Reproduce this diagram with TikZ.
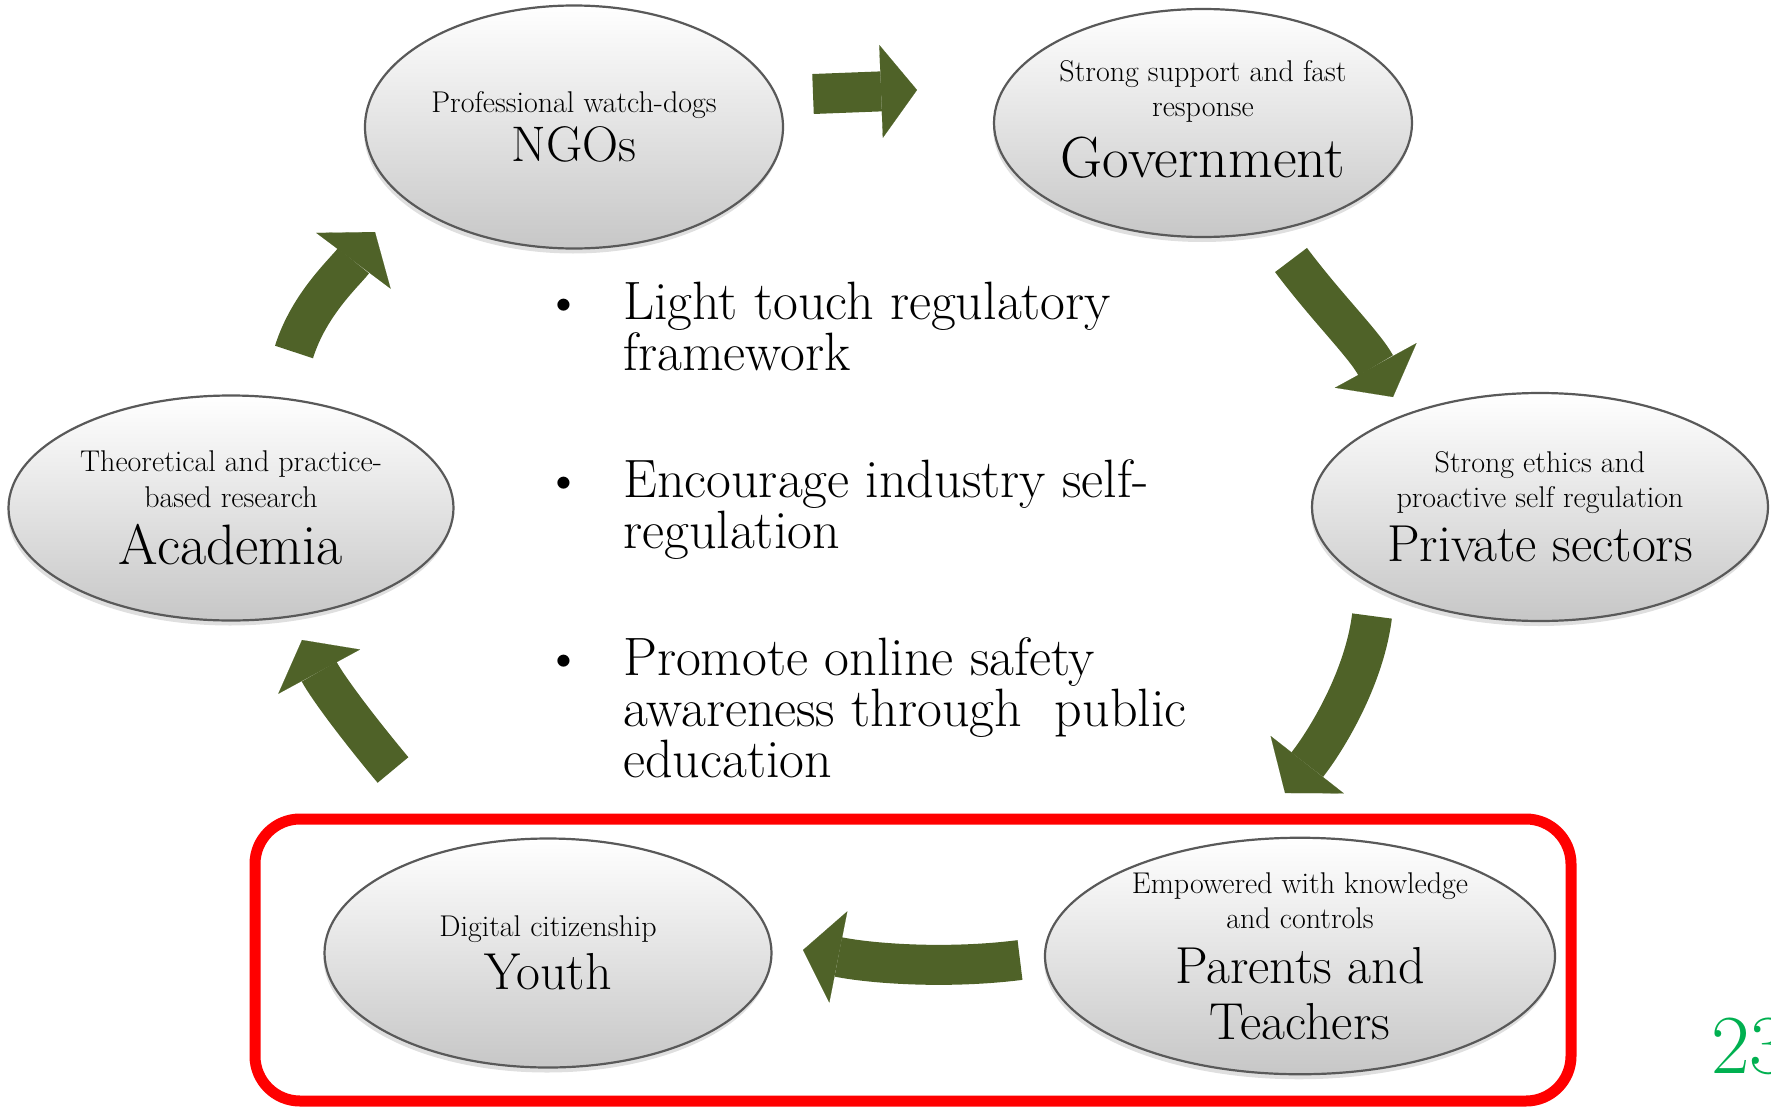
\documentclass[tikz,border=0pt]{standalone}
\usetikzlibrary{shapes.geometric,arrows.meta,shadows}

\definecolor{leaf}{HTML}{4F6228}
\definecolor{slidegreen}{HTML}{00B050}

% text sizes (1pt = 1px of the slide)
\lineskiplimit=-200pt
\normallineskiplimit=-200pt
\newcommand\smalltxt{\fontsize{30}{35}\selectfont}
\newcommand\listtxt{\fontsize{54}{51}\selectfont}
\newcommand\roletxt[1]{\fontsize{#1}{#1}\selectfont}

\begin{document}
\begin{tikzpicture}[x=1pt,y=-1pt,
  bubble/.style={ellipse,inner sep=0pt,align=center,font=\smalltxt,
    draw=black!65,line width=2.2pt,
    top color=white,middle color=black!4,bottom color=black!22,
    drop shadow={shadow xshift=-1pt,shadow yshift=-5pt,opacity=.25}},
  flow/.style={draw=leaf,line width=40pt,
    -{Triangle[width=93pt,length=36pt,line width=0.1pt]}},
  item/.style={anchor=north west,align=left,inner sep=0pt,font=\listtxt}]
\useasboundingbox (0,0) rectangle (1771,1108);

% the six actors
\node[bubble,minimum width=418pt,minimum height=243pt] at (574,127) (ngo)
  {Professional watch-dogs\\[14pt]\roletxt{50}NGOs};
\node[bubble,minimum width=418pt,minimum height=228pt] at (1203,123) (gov)
  {Strong support and fast\\response\\[26pt]\roletxt{58}Government\rule[-8pt]{0pt}{8pt}};
\node[bubble,minimum width=456pt,minimum height=228pt] at (1540,507) (priv)
  {Strong ethics and\\proactive self regulation\\[19pt]\roletxt{52}Private sectors};
\node[bubble,minimum width=445pt,minimum height=225pt] at (231,508) (acad)
  {Theoretical and practice-\\[1pt]based research\\[22pt]\roletxt{57}Academia};
\node[bubble,minimum width=447pt,minimum height=229pt] at (548,953) (youth)
  {Digital citizenship\\[18pt]\roletxt{52}Youth};
\node[bubble,minimum width=510pt,minimum height=234pt] at (1300,956) (parent)
  {Empowered with knowledge\\and controls\\[20pt]\roletxt{52}Parents and\\[21pt]\roletxt{52}Teachers};

% frame round the two bottom actors
\draw[red,line width=11pt,rounded corners=45pt] (255,819) rectangle (1571,1101);

% block arrows round the cycle
\coordinate (f1a) at (813,94);   \coordinate (f1b) at (917,90);
\coordinate (f2a) at (1291,260); \coordinate (f2b) at (1393,397);
\coordinate (f3a) at (1372,616); \coordinate (f3b) at (1285,793);
\coordinate (f4a) at (1020,960); \coordinate (f4b) at (803,950);
\coordinate (f5a) at (393,770);  \coordinate (f5b) at (302,640);
\coordinate (f6a) at (294,352);  \coordinate (f6b) at (375,232);

\draw[flow] (f1a) -- (f1b);
\draw[flow] (f2a) .. controls (1327,308) and (1364,344) .. (f2b);
\draw[flow] (f3a) .. controls (1364,680) and (1325,742) .. (f3b);
\draw[flow] (f4a) .. controls (949,969) and (874,964) .. (f4b);
\draw[flow] (f5a) .. controls (358,728) and (328,688) .. (f5b);
\draw[flow] (f6a) .. controls (309,304) and (345,272) .. (f6b);

% policy points in the middle
\node[item] at (623,282) (p1)
  {\llap{\textbullet\hspace{40pt}}Light touch regulatory\\framework};
\node[item] at (623,459) (p2)
  {\llap{\textbullet\hspace{40pt}}Encourage industry self-\\regulation};
\node[item] at (623,637) (p3)
  {\llap{\textbullet\hspace{40pt}}Promote online safety\\awareness through\ \ public\\education};

% slide number
\node[anchor=base west,inner sep=0pt,text=slidegreen,font=\roletxt{84}] at (1711,1073) (num) {23};
\end{tikzpicture}
\end{document}
